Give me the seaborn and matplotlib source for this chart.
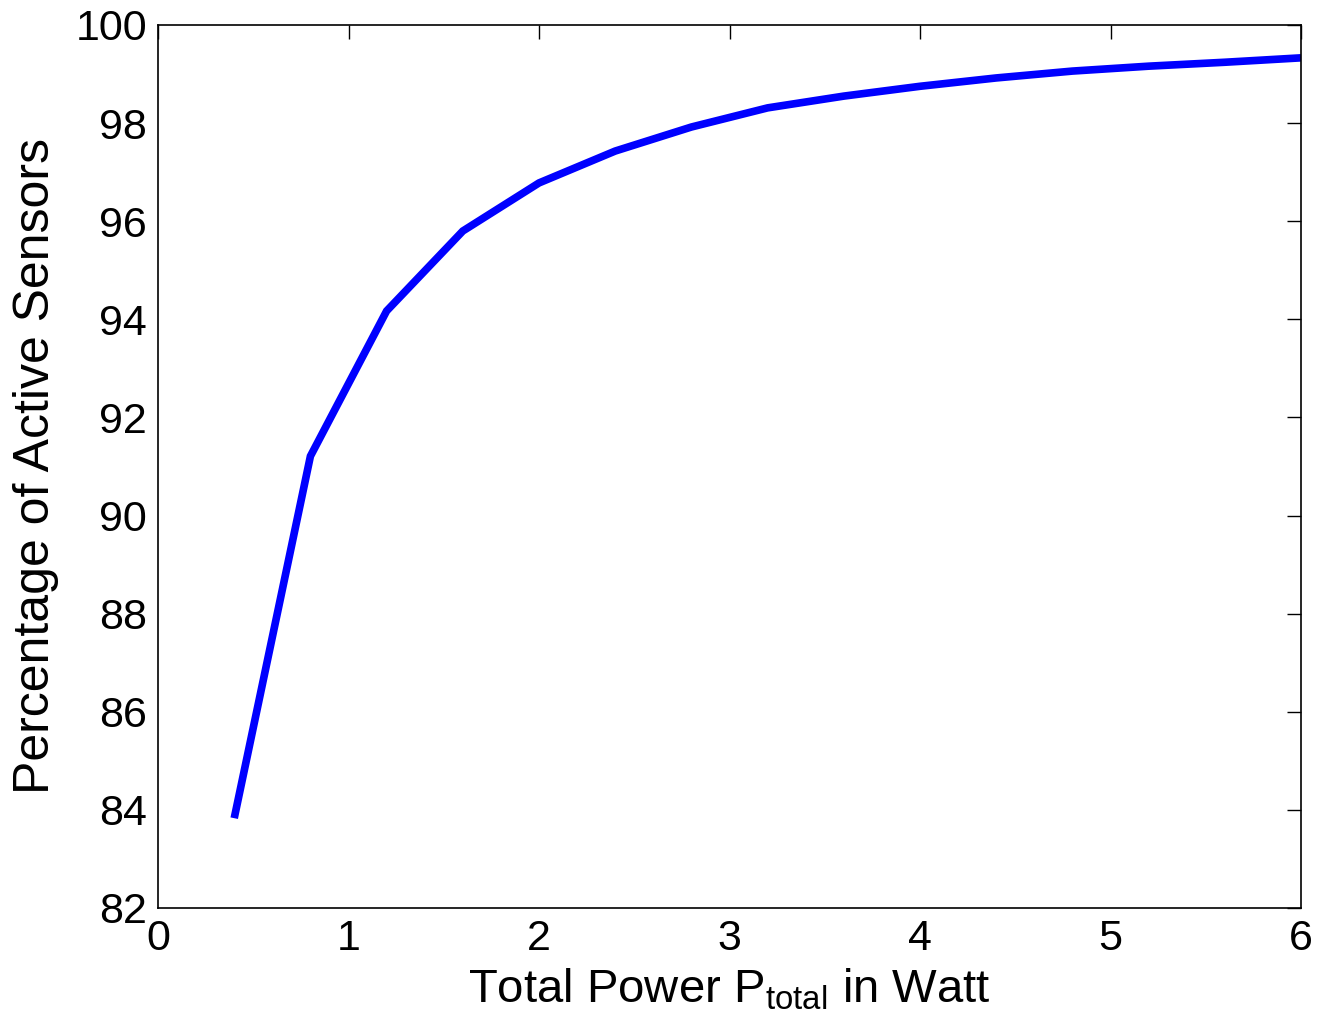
import numpy as np
import pandas as pd
import matplotlib
matplotlib.use("Agg")
import matplotlib.pyplot as plt
import seaborn as sns

# values
power = [0.4, 0.8, 1.2, 1.6, 2.0, 2.4, 2.8, 3.2, 3.6, 4.0, 4.4, 4.8, 5.2, 5.6, 6.0]
active = [83.83, 91.21, 94.17, 95.80, 96.78, 97.43, 97.92, 98.31, 98.55, 98.75,
          98.92, 99.06, 99.16, 99.24, 99.33]

xticks = [0, 1, 2, 3, 4, 5, 6]
yticks = [82, 84, 86, 88, 90, 92, 94, 96, 98, 100]

df = pd.DataFrame({'power': power, 'active': active})

sns.set_style('white')
plt.rcParams['font.family'] = ['Liberation Sans', 'DejaVu Sans']
plt.rcParams['mathtext.fontset'] = 'custom'
plt.rcParams['mathtext.rm'] = 'Liberation Sans'

fig = plt.figure(figsize=(13.19, 10.36), dpi=100)
ax = fig.add_axes([0.1198, 0.1236, 0.8666, 0.8523])

sns.lineplot(data=df, x='power', y='active', color='#0000ff', linewidth=5.5,
             solid_capstyle='butt', solid_joinstyle='miter', ax=ax)

ax.set_xlim(0, 6)
ax.set_ylim(82, 100)
ax.set_xticks(xticks)
ax.set_yticks(yticks)
ax.tick_params(direction='in', length=10, width=1, top=True, right=True,
               labelsize=31, pad=8, colors='black')
for s in ax.spines.values():
    s.set_color('black')
    s.set_linewidth(1.2)
    s.set_visible(True)

ax.set_xlabel(r'Total Power P$_{\mathrm{total}}$ in Watt', fontsize=34,
              labelpad=6, color='black')
ax.set_ylabel('Percentage of Active Sensors', fontsize=36, labelpad=12,
              color='black')

fig.savefig('out.png', dpi=100)
